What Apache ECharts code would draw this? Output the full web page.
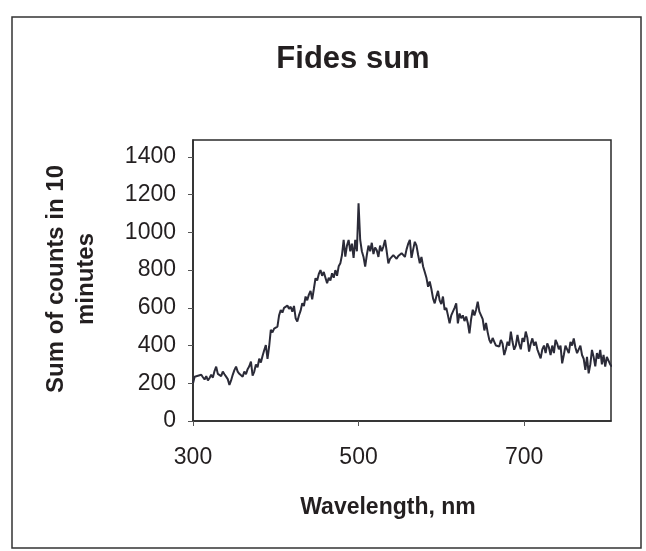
<!DOCTYPE html>
<html>
<head>
<meta charset="utf-8">
<script src="https://cdn.jsdelivr.net/npm/echarts@6/dist/echarts.min.js"></script>
<style>html,body{margin:0;padding:0;background:#fff;}#c{width:646px;height:551px;}</style>
</head>
<body>
<div id="c"></div>
<script>
var title = 'Fides sum';
var xName = 'Wavelength, nm';
var yName = 'Sum of counts in 10\nminutes';
var xStart = 300, xStep = 2;
var counts = [
  200, 235, 225, 240, 250,
  245, 232, 220, 238, 215,
  228, 245, 230, 265, 288,
  250, 255, 238, 262, 248,
  235, 222, 191, 215, 245,
  270, 288, 262, 250, 240,
  235, 262, 248, 275, 290,
  315, 240, 262, 300, 285,
  330, 310, 345, 375, 403,
  330, 395, 483, 470, 490,
  483, 500, 560, 589, 575,
  600, 590, 612, 595, 606,
  580, 610, 545, 527, 560,
  585, 625, 610, 660, 640,
  670, 690, 645, 700, 757,
  745, 780, 800, 770, 790,
  760, 730, 760, 745, 783,
  760, 800, 770, 820, 836,
  880, 960, 872, 930, 960,
  900, 940, 865, 960, 900,
  1155, 960, 900, 870, 819,
  880, 930, 900, 945, 885,
  920, 905, 870, 930, 900,
  925, 960, 900, 836, 860,
  850, 880, 870, 860, 875,
  880, 890, 900, 870, 910,
  940, 960, 865, 910, 950,
  930, 880, 836, 870, 819,
  790, 760, 712, 740, 700,
  650, 624, 660, 690, 640,
  620, 660, 589, 600, 560,
  518, 560, 580, 600, 624,
  518, 570, 545, 560, 530,
  554, 520, 465, 540, 590,
  560, 590, 633, 580, 560,
  540, 480, 520, 470, 430,
  412, 440, 420, 400, 403,
  395, 430, 410, 350, 380,
  420, 400, 474, 420, 378,
  400, 456, 410, 380, 440,
  420, 474, 440, 368, 410,
  438, 400, 420, 380, 370,
  332, 380, 400, 360, 412,
  390, 350, 400, 360, 430,
  410, 380, 400, 306, 350,
  400, 380, 360, 420, 400,
  438, 390, 360, 380, 400,
  350, 330, 271, 340, 253,
  300, 377, 340, 290, 360,
  330, 377, 300, 350, 288,
  340, 320, 300, 288
];
var wavelengths = counts.map(function (_, i) { return xStart + i * xStep; });
var points = wavelengths.map(function (w, i) { return [w, counts[i]]; });

var chart = echarts.init(document.getElementById('c'), null, {renderer: 'canvas'});
var ff = 'Liberation Sans, Arial, sans-serif';
chart.setOption({
  animation: false,
  backgroundColor: '#fff',
  title: {
    text: title, left: 348, top: 39, textAlign: 'center',
    textStyle: {fontFamily: ff, fontSize: 31, fontWeight: 'bold', color: '#231f20'}
  },
  grid: {left: 193, top: 140, right: 35, bottom: 130, show: true, borderColor: '#2a2a2a', borderWidth: 1.5, backgroundColor: 'transparent'},
  xAxis: {
    type: 'value', min: 300, max: 805, interval: 200,
    axisLine: {show: true, onZero: false, lineStyle: {color: '#2a2a2a', width: 1.5}},
    axisTick: {show: true, length: 5, lineStyle: {color: '#555'}},
    axisLabel: {showMaxLabel: false, margin: 25, fontFamily: ff, fontSize: 23, color: '#231f20', formatter: function (v) { return String(v); }},
    splitLine: {show: false}
  },
  yAxis: {
    type: 'value', min: 0, max: 1490, interval: 200,
    axisLine: {show: true, lineStyle: {color: '#2a2a2a', width: 1.5}},
    axisTick: {show: true, length: 5, lineStyle: {color: '#555'}},
    axisLabel: {showMaxLabel: false, margin: 17, fontFamily: ff, fontSize: 23, color: '#231f20', formatter: function (v) { return String(v); }},
    splitLine: {show: false}
  },
  graphic: [
    {type: 'rect', shape: {x: 12, y: 17, width: 629, height: 531}, style: {fill: 'none', stroke: '#333', lineWidth: 1.5}, silent: true, z: -1},
    {type: 'text', x: 388, y: 508, style: {text: xName, textAlign: 'center', textVerticalAlign: 'middle', font: 'bold 23px ' + ff, fill: '#231f20'}},
    {type: 'text', rotation: Math.PI / 2, x: 71, y: 279, style: {text: yName, textAlign: 'center', textVerticalAlign: 'middle', font: 'bold 24px ' + ff, fill: '#231f20', lineHeight: 30}}
  ],
  series: [{
    type: 'line', data: points, showSymbol: false, smooth: false,
    lineStyle: {color: '#2b2b38', width: 2}
  }]
});
</script>
</body>
</html>
